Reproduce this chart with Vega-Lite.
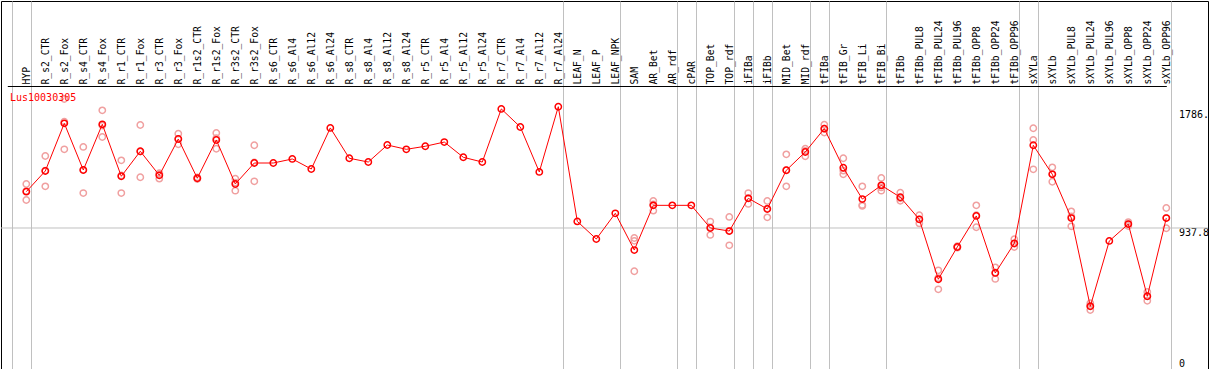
{
  "$schema": "https://vega.github.io/schema/vega-lite/v6.json",
  "autosize": {"type": "none"},
  "padding": {"left": 1, "top": 1, "right": 1, "bottom": 0},
  "width": 1207,
  "height": 368,
  "background": "white",
  "config": {"view": {"stroke": "black", "strokeWidth": 1}},
  "title": {"text": "Lus10030305", "orient": "top", "anchor": "start", "frame": "group", "offset": 0, "dx": 9, "dy": 102, "baseline": "top", "font": "DejaVu Sans Mono", "fontSize": 10, "fontWeight": "normal", "color": "#ff0000"},
  "datasets": {
    "means": [
      {"cat": "HYP", "v": 1198}, {"cat": "R_s2_CTR", "v": 1346}, {"cat": "R_s2_Fox", "v": 1687}, {"cat": "R_s4_CTR", "v": 1353}, {"cat": "R_s4_Fox", "v": 1680},
      {"cat": "R_r1_CTR", "v": 1308}, {"cat": "R_r1_Fox", "v": 1487}, {"cat": "R_r3_CTR", "v": 1315}, {"cat": "R_r3_Fox", "v": 1575}, {"cat": "R_r1s2_CTR", "v": 1294},
      {"cat": "R_r1s2_Fox", "v": 1568}, {"cat": "R_r3s2_CTR", "v": 1253}, {"cat": "R_r3s2_Fox", "v": 1403}, {"cat": "R_s6_CTR", "v": 1403}, {"cat": "R_s6_Al4", "v": 1432},
      {"cat": "R_s6_Al12", "v": 1360}, {"cat": "R_s6_Al24", "v": 1654}, {"cat": "R_s8_CTR", "v": 1437}, {"cat": "R_s8_Al4", "v": 1410}, {"cat": "R_s8_Al12", "v": 1532},
      {"cat": "R_s8_Al24", "v": 1501}, {"cat": "R_r5_CTR", "v": 1523}, {"cat": "R_r5_Al4", "v": 1553}, {"cat": "R_r5_Al12", "v": 1444}, {"cat": "R_r5_Al24", "v": 1410},
      {"cat": "R_r7_CTR", "v": 1790}, {"cat": "R_r7_Al4", "v": 1661}, {"cat": "R_r7_Al12", "v": 1339}, {"cat": "R_r7_Al24", "v": 1806}, {"cat": "LEAF_N", "v": 985},
      {"cat": "LEAF_P", "v": 859}, {"cat": "LEAF_NPK", "v": 1043}, {"cat": "SAM", "v": 780}, {"cat": "AR_Bet", "v": 1100}, {"cat": "AR_rdf", "v": 1100},
      {"cat": "cPAR", "v": 1100}, {"cat": "TOP_Bet", "v": 938}, {"cat": "TOP_rdf", "v": 916}, {"cat": "iFIBa", "v": 1150}, {"cat": "iFIBb", "v": 1074},
      {"cat": "MID_Bet", "v": 1351}, {"cat": "MID_rdf", "v": 1482}, {"cat": "tFIBa", "v": 1649}, {"cat": "tFIB_Gr", "v": 1369}, {"cat": "tFIB_Li", "v": 1145},
      {"cat": "tFIB_Bi", "v": 1243}, {"cat": "tFIBb", "v": 1158}, {"cat": "tFIBb_PUL8", "v": 1000}, {"cat": "tFIBb_PUL24", "v": 571}, {"cat": "tFIBb_PUL96", "v": 802},
      {"cat": "tFIBb_OPP8", "v": 1024}, {"cat": "tFIBb_OPP24", "v": 616}, {"cat": "tFIBb_OPP96", "v": 828}, {"cat": "sXYLa", "v": 1530}, {"cat": "sXYLb", "v": 1322},
      {"cat": "sXYLb_PUL8", "v": 1009}, {"cat": "sXYLb_PUL24", "v": 377}, {"cat": "sXYLb_PUL96", "v": 845}, {"cat": "sXYLb_OPP8", "v": 966}, {"cat": "sXYLb_OPP24", "v": 449},
      {"cat": "sXYLb_OPP96", "v": 1009}
    ],
    "reps": [
      {"cat": "HYP", "v": 1253}, {"cat": "HYP", "v": 1138}, {"cat": "HYP", "v": 1203},
      {"cat": "R_s2_CTR", "v": 1453}, {"cat": "R_s2_CTR", "v": 1236}, {"cat": "R_s2_CTR", "v": 1349},
      {"cat": "R_s2_Fox", "v": 1861}, {"cat": "R_s2_Fox", "v": 1501}, {"cat": "R_s2_Fox", "v": 1699},
      {"cat": "R_s4_CTR", "v": 1518}, {"cat": "R_s4_CTR", "v": 1188}, {"cat": "R_s4_CTR", "v": 1353},
      {"cat": "R_s4_Fox", "v": 1780}, {"cat": "R_s4_Fox", "v": 1589}, {"cat": "R_s4_Fox", "v": 1671},
      {"cat": "R_r1_CTR", "v": 1422}, {"cat": "R_r1_CTR", "v": 1188}, {"cat": "R_r1_CTR", "v": 1314},
      {"cat": "R_r1_Fox", "v": 1675}, {"cat": "R_r1_Fox", "v": 1301}, {"cat": "R_r1_Fox", "v": 1485},
      {"cat": "R_r3_CTR", "v": 1291}, {"cat": "R_r3_CTR", "v": 1324}, {"cat": "R_r3_CTR", "v": 1330},
      {"cat": "R_r3_Fox", "v": 1613}, {"cat": "R_r3_Fox", "v": 1537}, {"cat": "R_r3_Fox", "v": 1575},
      {"cat": "R_r1s2_CTR", "v": 1300}, {"cat": "R_r1s2_CTR", "v": 1288}, {"cat": "R_r1s2_CTR", "v": 1294},
      {"cat": "R_r1s2_Fox", "v": 1618}, {"cat": "R_r1s2_Fox", "v": 1505}, {"cat": "R_r1s2_Fox", "v": 1581},
      {"cat": "R_r3s2_CTR", "v": 1291}, {"cat": "R_r3s2_CTR", "v": 1205}, {"cat": "R_r3s2_CTR", "v": 1263},
      {"cat": "R_r3s2_Fox", "v": 1530}, {"cat": "R_r3s2_Fox", "v": 1272}, {"cat": "R_r3s2_Fox", "v": 1407},
      {"cat": "SAM", "v": 866}, {"cat": "SAM", "v": 628}, {"cat": "SAM", "v": 846},
      {"cat": "AR_Bet", "v": 1131}, {"cat": "AR_Bet", "v": 1062}, {"cat": "AR_Bet", "v": 1107},
      {"cat": "TOP_Bet", "v": 984}, {"cat": "TOP_Bet", "v": 888}, {"cat": "TOP_Bet", "v": 942},
      {"cat": "TOP_rdf", "v": 1017}, {"cat": "TOP_rdf", "v": 814}, {"cat": "TOP_rdf", "v": 917},
      {"cat": "iFIBa", "v": 1188}, {"cat": "iFIBa", "v": 1110}, {"cat": "iFIBa", "v": 1152},
      {"cat": "iFIBb", "v": 1131}, {"cat": "iFIBb", "v": 1014}, {"cat": "iFIBb", "v": 1077},
      {"cat": "MID_Bet", "v": 1465}, {"cat": "MID_Bet", "v": 1236}, {"cat": "MID_Bet", "v": 1352},
      {"cat": "MID_rdf", "v": 1505}, {"cat": "MID_rdf", "v": 1451}, {"cat": "MID_rdf", "v": 1490},
      {"cat": "tFIBa", "v": 1677}, {"cat": "tFIBa", "v": 1649}, {"cat": "tFIBa", "v": 1621},
      {"cat": "tFIB_Gr", "v": 1437}, {"cat": "tFIB_Gr", "v": 1322}, {"cat": "tFIB_Gr", "v": 1348},
      {"cat": "tFIB_Li", "v": 1236}, {"cat": "tFIB_Li", "v": 1103}, {"cat": "tFIB_Li", "v": 1096},
      {"cat": "tFIB_Bi", "v": 1296}, {"cat": "tFIB_Bi", "v": 1205}, {"cat": "tFIB_Bi", "v": 1228},
      {"cat": "tFIBb", "v": 1190}, {"cat": "tFIBb", "v": 1133}, {"cat": "tFIBb", "v": 1151},
      {"cat": "tFIBb_PUL8", "v": 1029}, {"cat": "tFIBb_PUL8", "v": 971}, {"cat": "tFIBb_PUL8", "v": 1000},
      {"cat": "tFIBb_PUL24", "v": 635}, {"cat": "tFIBb_PUL24", "v": 499}, {"cat": "tFIBb_PUL24", "v": 579},
      {"cat": "tFIBb_PUL96", "v": 797}, {"cat": "tFIBb_PUL96", "v": 802}, {"cat": "tFIBb_PUL96", "v": 807},
      {"cat": "tFIBb_OPP8", "v": 1100}, {"cat": "tFIBb_OPP8", "v": 943}, {"cat": "tFIBb_OPP8", "v": 1029},
      {"cat": "tFIBb_OPP24", "v": 656}, {"cat": "tFIBb_OPP24", "v": 573}, {"cat": "tFIBb_OPP24", "v": 619},
      {"cat": "tFIBb_OPP96", "v": 857}, {"cat": "tFIBb_OPP96", "v": 802}, {"cat": "tFIBb_OPP96", "v": 825},
      {"cat": "sXYLa", "v": 1652}, {"cat": "sXYLa", "v": 1568}, {"cat": "sXYLa", "v": 1358},
      {"cat": "sXYLb", "v": 1372}, {"cat": "sXYLb", "v": 1269}, {"cat": "sXYLb", "v": 1325},
      {"cat": "sXYLb_PUL8", "v": 1057}, {"cat": "sXYLb_PUL8", "v": 950}, {"cat": "sXYLb_PUL8", "v": 1020},
      {"cat": "sXYLb_PUL24", "v": 399}, {"cat": "sXYLb_PUL24", "v": 351}, {"cat": "sXYLb_PUL24", "v": 381},
      {"cat": "sXYLb_OPP8", "v": 966}, {"cat": "sXYLb_OPP8", "v": 952}, {"cat": "sXYLb_OPP8", "v": 980},
      {"cat": "sXYLb_OPP24", "v": 480}, {"cat": "sXYLb_OPP24", "v": 417}, {"cat": "sXYLb_OPP24", "v": 450},
      {"cat": "sXYLb_OPP96", "v": 1081}, {"cat": "sXYLb_OPP96", "v": 936}, {"cat": "sXYLb_OPP96", "v": 1010}
    ],
    "midline": [{"v": 937.8}]
  },
  "layer": [
    {
      "data": {"name": "midline"},
      "mark": {"type": "rule", "color": "#c0c0c0", "strokeWidth": 1},
      "encoding": {"y": {"field": "v", "type": "quantitative"}}
    },
    {
      "data": {"name": "reps"},
      "mark": {"type": "point", "shape": "circle", "filled": false, "size": 40, "strokeWidth": 1.5, "color": "#f0a0a0", "opacity": 1},
      "encoding": {
        "x": {
          "field": "cat", "type": "nominal",
          "scale": {
            "type": "point", "padding": 0, "range": [6.3, 1165.3],
            "domain": ["", "HYP", "R_s2_CTR", "R_s2_Fox", "R_s4_CTR", "R_s4_Fox", "R_r1_CTR", "R_r1_Fox", "R_r3_CTR", "R_r3_Fox", "R_r1s2_CTR", "R_r1s2_Fox", "R_r3s2_CTR", "R_r3s2_Fox", "R_s6_CTR", "R_s6_Al4", "R_s6_Al12", "R_s6_Al24", "R_s8_CTR", "R_s8_Al4", "R_s8_Al12", "R_s8_Al24", "R_r5_CTR", "R_r5_Al4", "R_r5_Al12", "R_r5_Al24", "R_r7_CTR", "R_r7_Al4", "R_r7_Al12", "R_r7_Al24", "LEAF_N", "LEAF_P", "LEAF_NPK", "SAM", "AR_Bet", "AR_rdf", "cPAR", "TOP_Bet", "TOP_rdf", "iFIBa", "iFIBb", "MID_Bet", "MID_rdf", "tFIBa", "tFIB_Gr", "tFIB_Li", "tFIB_Bi", "tFIBb", "tFIBb_PUL8", "tFIBb_PUL24", "tFIBb_PUL96", "tFIBb_OPP8", "tFIBb_OPP24", "tFIBb_OPP96", "sXYLa", "sXYLb", "sXYLb_PUL8", "sXYLb_PUL24", "sXYLb_PUL96", "sXYLb_OPP8", "sXYLb_OPP24", "sXYLb_OPP96"]
          },
          "axis": {
            "orient": "top", "offset": -85, "title": null,
            "domain": true, "domainColor": "black", "domainWidth": 1,
            "ticks": false, "tickOffset": 4.4, "labelOffset": -4.4,
            "labelAngle": -90, "labelAlign": "left", "labelBaseline": "middle", "labelPadding": 2,
            "labelFont": "DejaVu Sans Mono", "labelFontSize": 9.7, "labelColor": "black", "labelOverlap": false, "labelFlush": false,
            "grid": true, "gridColor": "#c0c0c0", "gridWidth": 1,
            "gridOpacity": {"condition": {"test": "indexof(['', 'HYP', 'R_r7_Al24', 'LEAF_NPK', 'AR_rdf', 'cPAR', 'TOP_rdf', 'iFIBa', 'iFIBb', 'MID_rdf', 'tFIBa', 'tFIB_Bi', 'tFIBb_OPP96', 'sXYLa', 'sXYLb_OPP96'], datum.value) >= 0", "value": 1}, "value": 0}
          }
        },
        "y": {
          "field": "v", "type": "quantitative",
          "scale": {"domain": [-71.6, 2562.8], "nice": false, "zero": false},
          "axis": {
            "orient": "right", "offset": -30, "title": null,
            "domain": false, "ticks": false, "grid": false,
            "values": [0, 937.8, 1786],
            "labelExpr": "datum.value >= 1786 ? '1786.' : (datum.value > 0 ? '937.8' : '0')",
            "labelAlign": "left", "labelBaseline": "top", "labelPadding": 0.5,
            "labelFont": "DejaVu Sans Mono", "labelFontSize": 10, "labelColor": "black", "labelOverlap": false, "labelFlush": false
          }
        }
      }
    },
    {
      "data": {"name": "means"},
      "mark": {"type": "line", "color": "#ff0000", "strokeWidth": 1},
      "encoding": {
        "x": {"field": "cat", "type": "nominal"},
        "y": {"field": "v", "type": "quantitative"},
        "order": {"value": null}
      }
    },
    {
      "data": {"name": "means"},
      "mark": {"type": "point", "shape": "circle", "filled": false, "size": 40, "strokeWidth": 1.5, "color": "#ff0000", "opacity": 1},
      "encoding": {
        "x": {"field": "cat", "type": "nominal"},
        "y": {"field": "v", "type": "quantitative"}
      }
    }
  ]
}
